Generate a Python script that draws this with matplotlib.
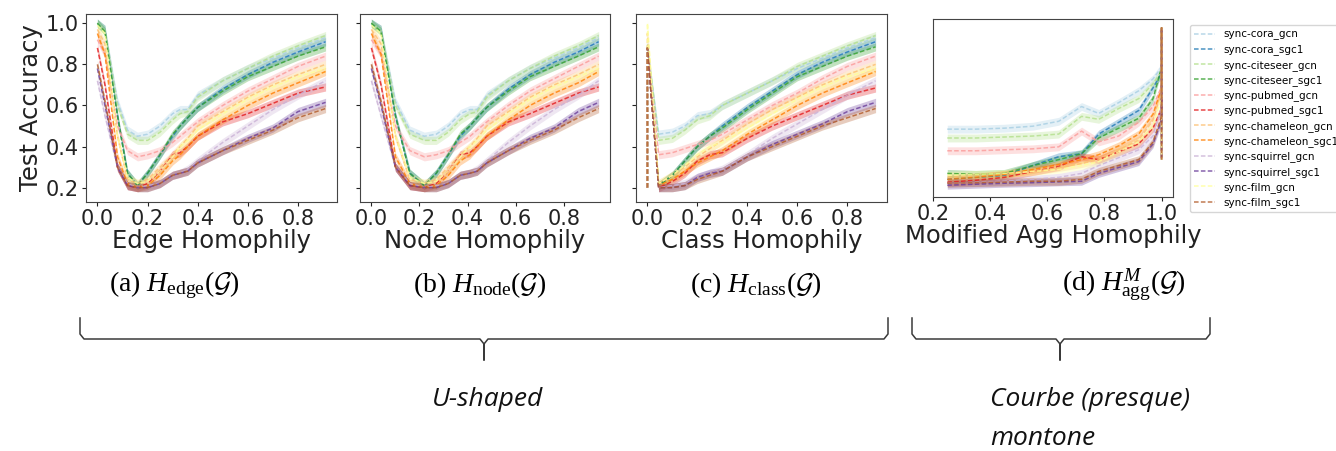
import numpy as np
import matplotlib
matplotlib.use('Agg')
import matplotlib.pyplot as plt

plt.rcParams['font.family'] = 'DejaVu Sans'
plt.rcParams['mathtext.fontset'] = 'custom'
plt.rcParams['mathtext.rm'] = 'Liberation Serif'
plt.rcParams['mathtext.it'] = 'Liberation Serif:italic'
plt.rcParams['mathtext.cal'] = 'cmsy10'

# series names and colours (Paired palette)
series = ['sync-cora_gcn', 'sync-cora_sgc1', 'sync-citeseer_gcn', 'sync-citeseer_sgc1',
          'sync-pubmed_gcn', 'sync-pubmed_sgc1', 'sync-chameleon_gcn', 'sync-chameleon_sgc1',
          'sync-squirrel_gcn', 'sync-squirrel_sgc1', 'sync-film_gcn', 'sync-film_sgc1']
colors = ['#a6cee3', '#1f78b4', '#b2df8a', '#33a02c', '#fb9a99', '#e31a1c',
          '#fdbf6f', '#ff7f00', '#cab2d6', '#6a3d9a', '#ffff99', '#b15928']

# (a) edge homophily
x_edge = [0, 0.03, 0.08, 0.12, 0.16, 0.2, 0.25, 0.3, 0.33, 0.36, 0.4, 0.5, 0.6, 0.7, 0.8, 0.91]
acc_edge = [
    [1.0, 0.97, 0.62, 0.48, 0.45, 0.46, 0.50, 0.56, 0.58, 0.58, 0.65, 0.72, 0.78, 0.83, 0.88, 0.93],
    [1.0, 0.97, 0.55, 0.27, 0.21, 0.27, 0.36, 0.45, 0.50, 0.54, 0.59, 0.68, 0.75, 0.81, 0.86, 0.91],
    [1.0, 0.97, 0.60, 0.46, 0.43, 0.43, 0.47, 0.53, 0.56, 0.57, 0.64, 0.72, 0.78, 0.84, 0.89, 0.94],
    [1.0, 0.96, 0.55, 0.27, 0.21, 0.27, 0.36, 0.46, 0.50, 0.54, 0.59, 0.67, 0.74, 0.79, 0.84, 0.885],
    [0.92, 0.85, 0.50, 0.38, 0.35, 0.36, 0.38, 0.42, 0.45, 0.48, 0.52, 0.60, 0.67, 0.73, 0.79, 0.84],
    [0.88, 0.70, 0.30, 0.21, 0.20, 0.22, 0.28, 0.36, 0.37, 0.40, 0.45, 0.52, 0.56, 0.61, 0.66, 0.69],
    [0.97, 0.90, 0.45, 0.24, 0.22, 0.24, 0.30, 0.36, 0.40, 0.44, 0.50, 0.57, 0.64, 0.70, 0.75, 0.80],
    [0.95, 0.85, 0.35, 0.22, 0.20, 0.21, 0.26, 0.33, 0.36, 0.40, 0.45, 0.53, 0.60, 0.66, 0.71, 0.765],
    [0.72, 0.55, 0.30, 0.22, 0.20, 0.21, 0.22, 0.26, 0.27, 0.29, 0.33, 0.42, 0.50, 0.58, 0.65, 0.72],
    [0.78, 0.60, 0.30, 0.21, 0.20, 0.20, 0.22, 0.26, 0.27, 0.28, 0.32, 0.38, 0.44, 0.49, 0.57, 0.615],
    [0.99, 0.95, 0.45, 0.25, 0.22, 0.23, 0.28, 0.35, 0.40, 0.43, 0.48, 0.56, 0.63, 0.69, 0.74, 0.78],
    [0.80, 0.62, 0.30, 0.21, 0.20, 0.20, 0.22, 0.26, 0.27, 0.28, 0.32, 0.38, 0.43, 0.48, 0.54, 0.585],
]

# (b) node homophily (same accuracies, different x)
x_node = [0, 0.04, 0.1, 0.16, 0.22, 0.27, 0.32, 0.37, 0.41, 0.44, 0.48, 0.57, 0.66, 0.76, 0.86, 0.945]
acc_node = acc_edge

# (c) class homophily
x_class = [0, 0, 0.045, 0.1, 0.15, 0.2, 0.25, 0.3, 0.4, 0.5, 0.6, 0.7, 0.8, 0.913]
acc_class = [
    [0.2, 0.88, 0.46, 0.47, 0.50, 0.55, 0.56, 0.60, 0.66, 0.72, 0.78, 0.83, 0.88, 0.93],
    [0.2, 0.88, 0.21, 0.26, 0.33, 0.40, 0.45, 0.50, 0.59, 0.67, 0.75, 0.81, 0.86, 0.91],
    [0.2, 0.90, 0.43, 0.44, 0.48, 0.53, 0.55, 0.60, 0.66, 0.72, 0.79, 0.84, 0.89, 0.94],
    [0.2, 0.88, 0.21, 0.26, 0.33, 0.40, 0.45, 0.49, 0.58, 0.66, 0.74, 0.79, 0.84, 0.885],
    [0.2, 0.88, 0.36, 0.37, 0.39, 0.41, 0.43, 0.46, 0.53, 0.60, 0.66, 0.73, 0.79, 0.84],
    [0.2, 0.88, 0.20, 0.23, 0.27, 0.33, 0.36, 0.37, 0.44, 0.50, 0.55, 0.60, 0.65, 0.685],
    [0.2, 0.95, 0.22, 0.26, 0.30, 0.35, 0.39, 0.43, 0.51, 0.58, 0.64, 0.70, 0.75, 0.80],
    [0.2, 0.88, 0.21, 0.24, 0.28, 0.32, 0.35, 0.38, 0.46, 0.53, 0.60, 0.66, 0.71, 0.765],
    [0.2, 0.88, 0.20, 0.21, 0.22, 0.25, 0.27, 0.29, 0.36, 0.44, 0.51, 0.58, 0.65, 0.72],
    [0.2, 0.88, 0.20, 0.20, 0.21, 0.25, 0.27, 0.28, 0.35, 0.41, 0.46, 0.51, 0.57, 0.615],
    [0.2, 1.00, 0.22, 0.26, 0.31, 0.36, 0.40, 0.42, 0.49, 0.56, 0.63, 0.69, 0.74, 0.78],
    [0.2, 0.88, 0.20, 0.20, 0.21, 0.24, 0.26, 0.28, 0.35, 0.40, 0.45, 0.50, 0.54, 0.585],
]

# (d) modified aggregation homophily
x_agg = [0.25, 0.35, 0.45, 0.55, 0.64, 0.72, 0.78, 0.85, 0.92, 0.97, 1.0, 1.0, 1.0]
acc_agg = [
    [0.485, 0.485, 0.49, 0.50, 0.525, 0.60, 0.565, 0.62, 0.68, 0.74, 0.80, 1.0, 0.33],
    [0.23, 0.24, 0.25, 0.30, 0.345, 0.36, 0.46, 0.52, 0.58, 0.695, 0.77, 1.0, 0.33],
    [0.44, 0.44, 0.445, 0.45, 0.46, 0.55, 0.535, 0.59, 0.64, 0.715, 0.78, 1.0, 0.33],
    [0.26, 0.255, 0.26, 0.30, 0.33, 0.36, 0.44, 0.49, 0.54, 0.64, 0.80, 1.0, 0.33],
    [0.375, 0.375, 0.38, 0.385, 0.395, 0.475, 0.42, 0.45, 0.52, 0.60, 0.70, 1.0, 0.33],
    [0.215, 0.225, 0.24, 0.27, 0.295, 0.345, 0.33, 0.37, 0.41, 0.49, 0.59, 1.0, 0.33],
    [0.24, 0.245, 0.255, 0.27, 0.29, 0.31, 0.33, 0.38, 0.43, 0.53, 0.68, 1.0, 0.33],
    [0.23, 0.24, 0.255, 0.28, 0.305, 0.33, 0.355, 0.40, 0.46, 0.56, 0.695, 1.0, 0.33],
    [0.21, 0.215, 0.22, 0.23, 0.24, 0.26, 0.30, 0.34, 0.38, 0.45, 0.60, 1.0, 0.33],
    [0.20, 0.205, 0.21, 0.213, 0.217, 0.22, 0.26, 0.29, 0.32, 0.41, 0.53, 1.0, 0.33],
    [0.25, 0.255, 0.26, 0.27, 0.28, 0.30, 0.32, 0.37, 0.42, 0.50, 0.65, 1.0, 0.33],
    [0.21, 0.213, 0.216, 0.22, 0.22, 0.23, 0.27, 0.30, 0.33, 0.42, 0.55, 1.0, 0.33],
]

xlabels = ['Edge Homophily', 'Node Homophily', 'Class Homophily', 'Modified Agg Homophily']
captions = [r'(a) $H_{\mathrm{edge}}(\mathcal{G})$', r'(b) $H_{\mathrm{node}}(\mathcal{G})$',
            r'(c) $H_{\mathrm{class}}(\mathcal{G})$', r'(d) $H_{\mathrm{agg}}^{M}(\mathcal{G})$']
band = 0.02

W, H = 1336, 451
fig = plt.figure(figsize=(W / 100, H / 100), dpi=100)


def px_rect(l, t, r, b):
    return [l / W, 1 - b / H, (r - l) / W, (b - t) / H]


rects = [px_rect(86, 14, 337, 202), px_rect(360, 14, 610, 202),
         px_rect(636, 14, 887, 202), px_rect(933, 19, 1173, 197)]
panels = [(x_edge, acc_edge), (x_node, acc_node), (x_class, acc_class), (x_agg, acc_agg)]

axes = []
for i, (rect, (xs, rows)) in enumerate(zip(rects, panels)):
    ax = fig.add_axes(rect)
    xs = np.array(xs)
    for name, c, ys in zip(series, colors, rows):
        ys = np.array(ys)
        ax.fill_between(xs, ys - band, ys + band, color=c, alpha=0.3, lw=0)
        ax.plot(xs, ys, ls='--', dashes=(3, 1.5), color=c, lw=1.1, alpha=0.8, label=name)
    ax.set_xlabel(xlabels[i], fontsize=17.5, labelpad=0, color='#222222')
    ax.tick_params(labelsize=15, length=3, pad=2, colors='#222222')
    for sp in ax.spines.values():
        sp.set_color('#444444')
    if i < 3:
        ax.set_ylim(0.13, 1.045)
        ax.set_xticks([0.0, 0.2, 0.4, 0.6, 0.8])
        ax.set_yticks([0.2, 0.4, 0.6, 0.8, 1.0])
    else:
        ax.set_xlim(0.2, 1.04)
        ax.set_ylim(0.14, 1.045)
        ax.set_xticks([0.2, 0.4, 0.6, 0.8, 1.0])
        ax.tick_params(left=False, labelleft=False)
    if i == 0:
        ax.set_ylabel('Test Accuracy', fontsize=17.5, labelpad=2, color='#222222')
    elif i < 3:
        ax.tick_params(labelleft=False)
    axes.append(ax)

handles, labels = axes[0].get_legend_handles_labels()
fig.legend(handles, labels, loc='upper left', bbox_to_anchor=(1190 / W, 1 - 25 / H),
           fontsize=7.5, frameon=True, edgecolor='#cccccc', handlelength=2.0,
           borderaxespad=0, labelspacing=0.42)

# captions under the panels
cap_x = [174, 480, 756, 1124]
for cx, cap in zip(cap_x, captions):
    fig.text(cx / W, 1 - 285 / H, cap, ha='center', va='center', fontsize=20,
             family='Liberation Serif')

# braces and comments
ov = fig.add_axes([0, 0, 1, 1], zorder=-1)
ov.set_xlim(0, W)
ov.set_ylim(H, 0)
ov.axis('off')


def brace(x0, x1, tip, top=318, mid=339, bot=360):
    xs = [x0, x0, x0 + 4, tip - 4, tip, tip, tip, tip + 4, x1 - 4, x1, x1]
    ys = [top, mid - 5, mid, mid, mid + 5, bot, mid + 5, mid, mid, mid - 5, top]
    ov.plot(xs, ys, color='#3a3a3a', lw=1.1)


brace(80, 888, 484)
brace(912, 1210, 1060)

ov.text(488, 400, 'U-shaped', ha='center', va='center', fontsize=19,
        style='italic', family='Open Sans', color='#111111')
ov.text(990, 419, 'Courbe (presque)\nmontone', ha='left', va='center', fontsize=19,
        style='italic', family='Open Sans', color='#111111', linespacing=1.75)

fig.savefig('out.png', dpi=100, facecolor='white')
